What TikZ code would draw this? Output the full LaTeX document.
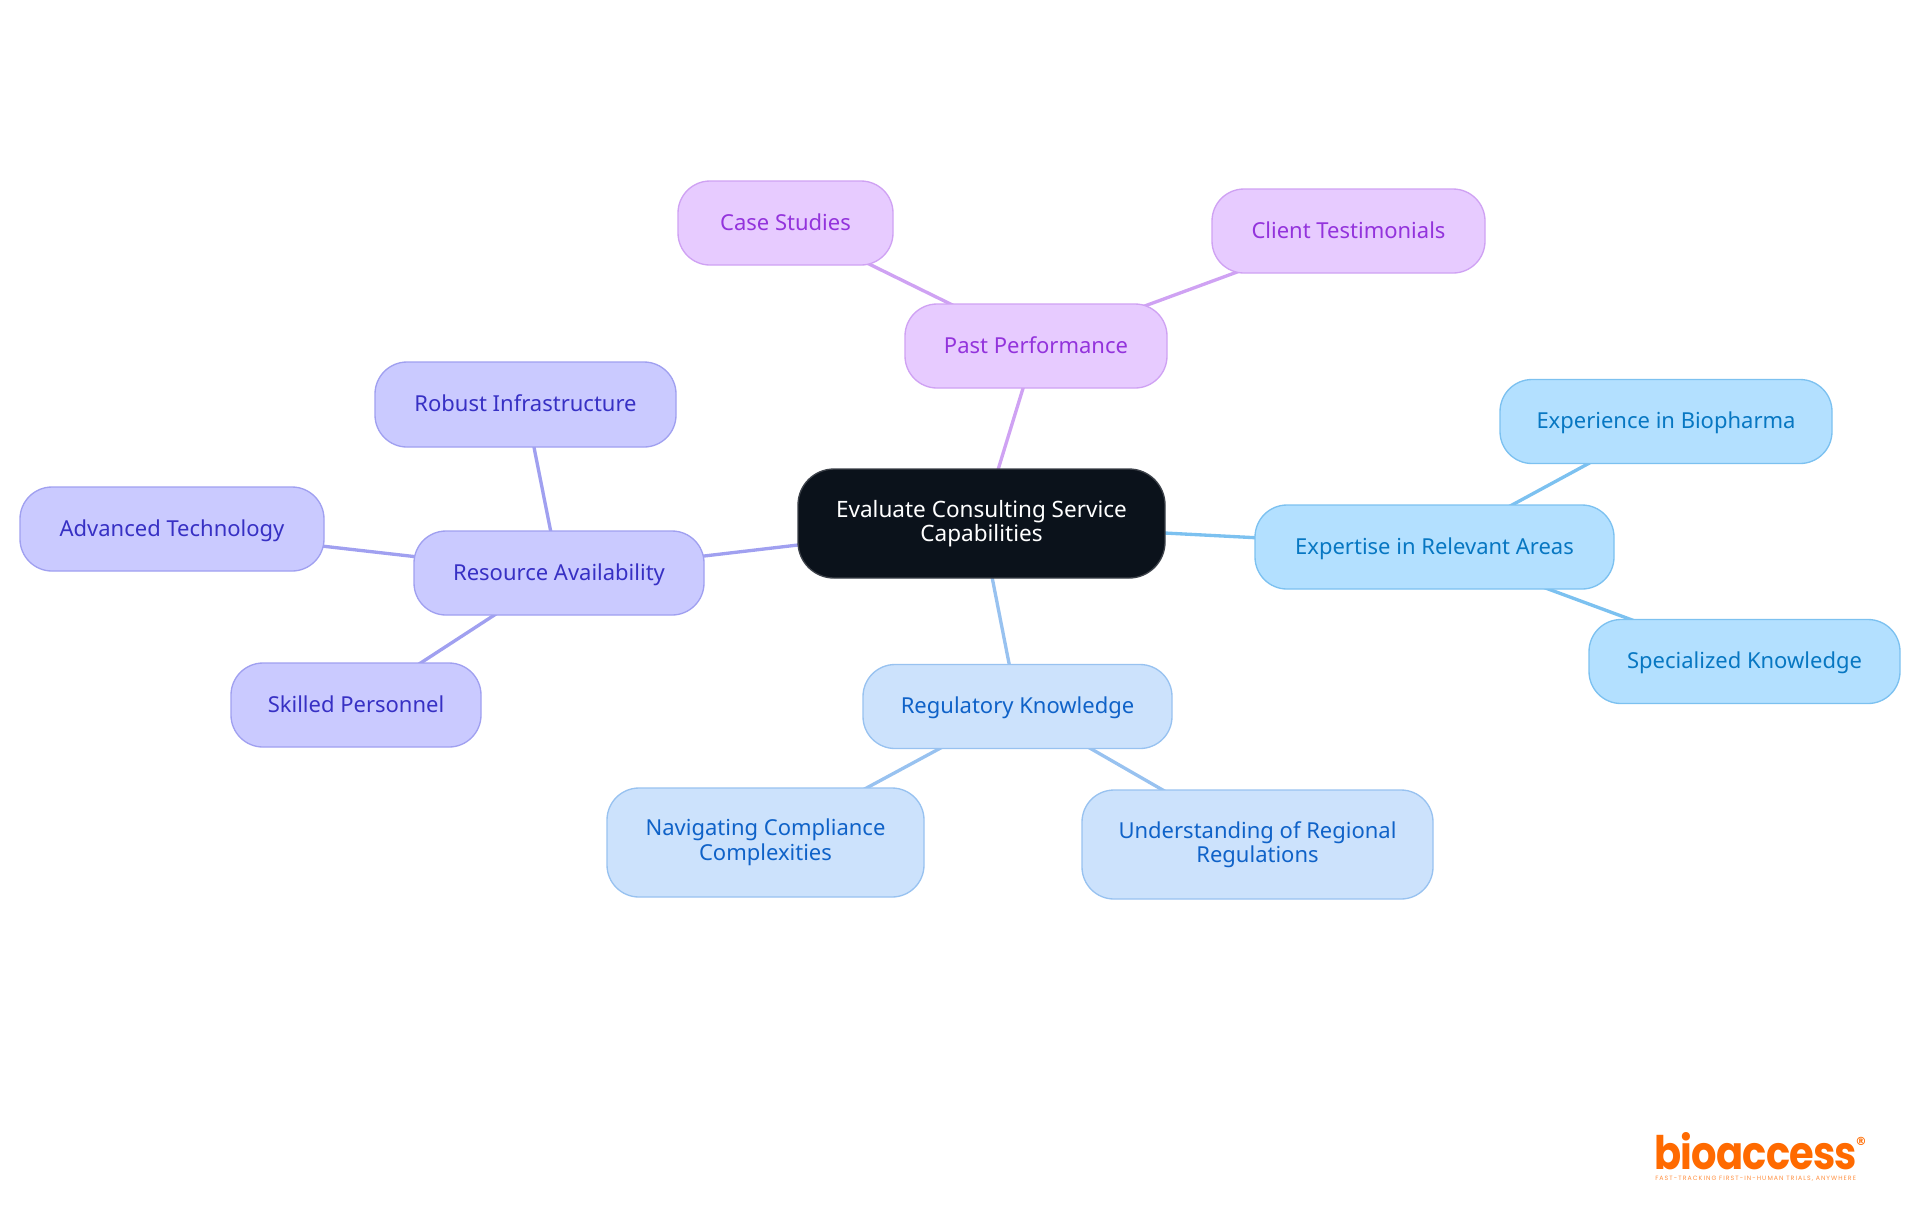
\documentclass[tikz,border=0pt]{standalone}
\usepackage{fontspec}
\usepackage{graphicx}
\setmainfont{Noto Sans}
\newfontfamily\logofont[LetterSpace=-2]{Poppins}
\newfontfamily\tagfont[LetterSpace=17]{Poppins}
\newfontfamily\markfont{DejaVu Sans}
\newcommand\txstrut{\rule[-3.7pt]{0pt}{18.4pt}}
\usetikzlibrary{backgrounds}
\definecolor{rootfill}{HTML}{0B121B}
\definecolor{rootline}{HTML}{3C4149}
\definecolor{purpfill}{HTML}{E7CBFF}
\definecolor{purpline}{HTML}{CFA2F3}
\definecolor{purptext}{HTML}{9333DC}
\definecolor{skyfill}{HTML}{B3E0FF}
\definecolor{skyline}{HTML}{7CC1F0}
\definecolor{skytext}{HTML}{0777C2}
\definecolor{bluefill}{HTML}{CCE2FC}
\definecolor{blueline}{HTML}{98C2F0}
\definecolor{bluetext}{HTML}{0F62C8}
\definecolor{violfill}{HTML}{CACAFF}
\definecolor{violline}{HTML}{A0A0F0}
\definecolor{violtext}{HTML}{3730C4}
\definecolor{logoorange}{HTML}{FF6A00}
\tikzset{
  x=0.75pt,y=-0.75pt,
  base/.style={draw,line width=1pt,align=center,inner sep=0pt,
    font=\fontsize{16.5pt}{18.4pt}\selectfont,
    execute at begin node=\txstrut,execute at end node=\txstrut},
  box/.style 2 args={base,rectangle,minimum width=#1*0.75pt,minimum height=#2*0.75pt,rounded corners=24pt},
  rootbox/.style={fill=rootfill,draw=rootline,text=white,rounded corners=27pt,
    font=\fontsize{16.9pt}{18.4pt}\selectfont},
  purp/.style={fill=purpfill,draw=purpline,text=purptext},
  sky/.style={fill=skyfill,draw=skyline,text=skytext},
  blu/.style={fill=bluefill,draw=blueline,text=bluetext},
  viol/.style={fill=violfill,draw=violline,text=violtext},
  edge/.style={line width=2.5pt},
}
\begin{document}
\begin{tikzpicture}
\useasboundingbox (0,0) rectangle (1920,1215);
\node[box={367}{109},rootbox] (root) at (981.5,523.5) {Evaluate Consulting Service\\Capabilities};
\node[box={262}{84},purp] (past) at (1036,346) {Past Performance};
\node[box={215}{84},purp] (case) at (785.5,223) {Case Studies};
\node[box={273}{84},purp] (client) at (1348.5,231) {Client Testimonials};
\node[box={290}{84},viol] (res) at (559,573) {Resource Availability};
\node[box={301}{85},viol] (robust) at (525.5,404.5) {Robust Infrastructure};
\node[box={304}{84},viol] (adv) at (172,529) {Advanced Technology};
\node[box={250}{84},viol] (skill) at (356,705) {Skilled Personnel};
\node[box={359}{84},sky] (exp) at (1434.5,547) {Expertise in Relevant Areas};
\node[box={332}{84},sky] (bio) at (1666,421.5) {Experience in Biopharma};
\node[box={311}{84},sky] (spec) at (1744.5,661.5) {Specialized Knowledge};
\node[box={309}{84},blu] (reg) at (1017.5,706.5) {Regulatory Knowledge};
\node[box={317}{109},blu] (nav) at (765.5,842.5) {Navigating Compliance\\Complexities};
\node[box={351}{109},blu] (und) at (1257.5,844.5) {Understanding of Regional\\Regulations};
\begin{scope}[on background layer]
  \draw[edge,purpline] (root.center) -- (past.center);
  \draw[edge,purpline] (past.center) -- (case.center);
  \draw[edge,purpline] (past.center) -- (client.center);
  \draw[edge,violline] (root.center) -- (res.center);
  \draw[edge,violline] (res.center) -- (robust.center);
  \draw[edge,violline] (res.center) -- (adv.center);
  \draw[edge,violline] (res.center) -- (skill.center);
  \draw[edge,skyline] (root.center) -- (exp.center);
  \draw[edge,skyline] (exp.center) -- (bio.center);
  \draw[edge,skyline] (exp.center) -- (spec.center);
  \draw[edge,blueline] (root.center) -- (reg.center);
  \draw[edge,blueline] (reg.center) -- (nav.center);
  \draw[edge,blueline] (reg.center) -- (und.center);
\end{scope}
\node[anchor=base west,inner sep=0pt,text=logoorange] (logo) at (1654,1169)
  {\resizebox{152pt}{27.75pt}{\logofont\bfseries\fontsize{36pt}{36pt}\selectfont bioaccess}};
\node[inner sep=0pt,text=logoorange] (regmark) at (1861,1141.5)
  {\markfont\bfseries\fontsize{8.5pt}{8.5pt}\selectfont ®};
\node[anchor=base west,inner sep=0pt,text=logoorange!75] (tag) at (1655,1180)
  {\resizebox{150.5pt}{!}{\tagfont\fontsize{4.6pt}{5pt}\selectfont FAST-TRACKING FIRST-IN-HUMAN TRIALS, ANYWHERE}};
\end{tikzpicture}
\end{document}
